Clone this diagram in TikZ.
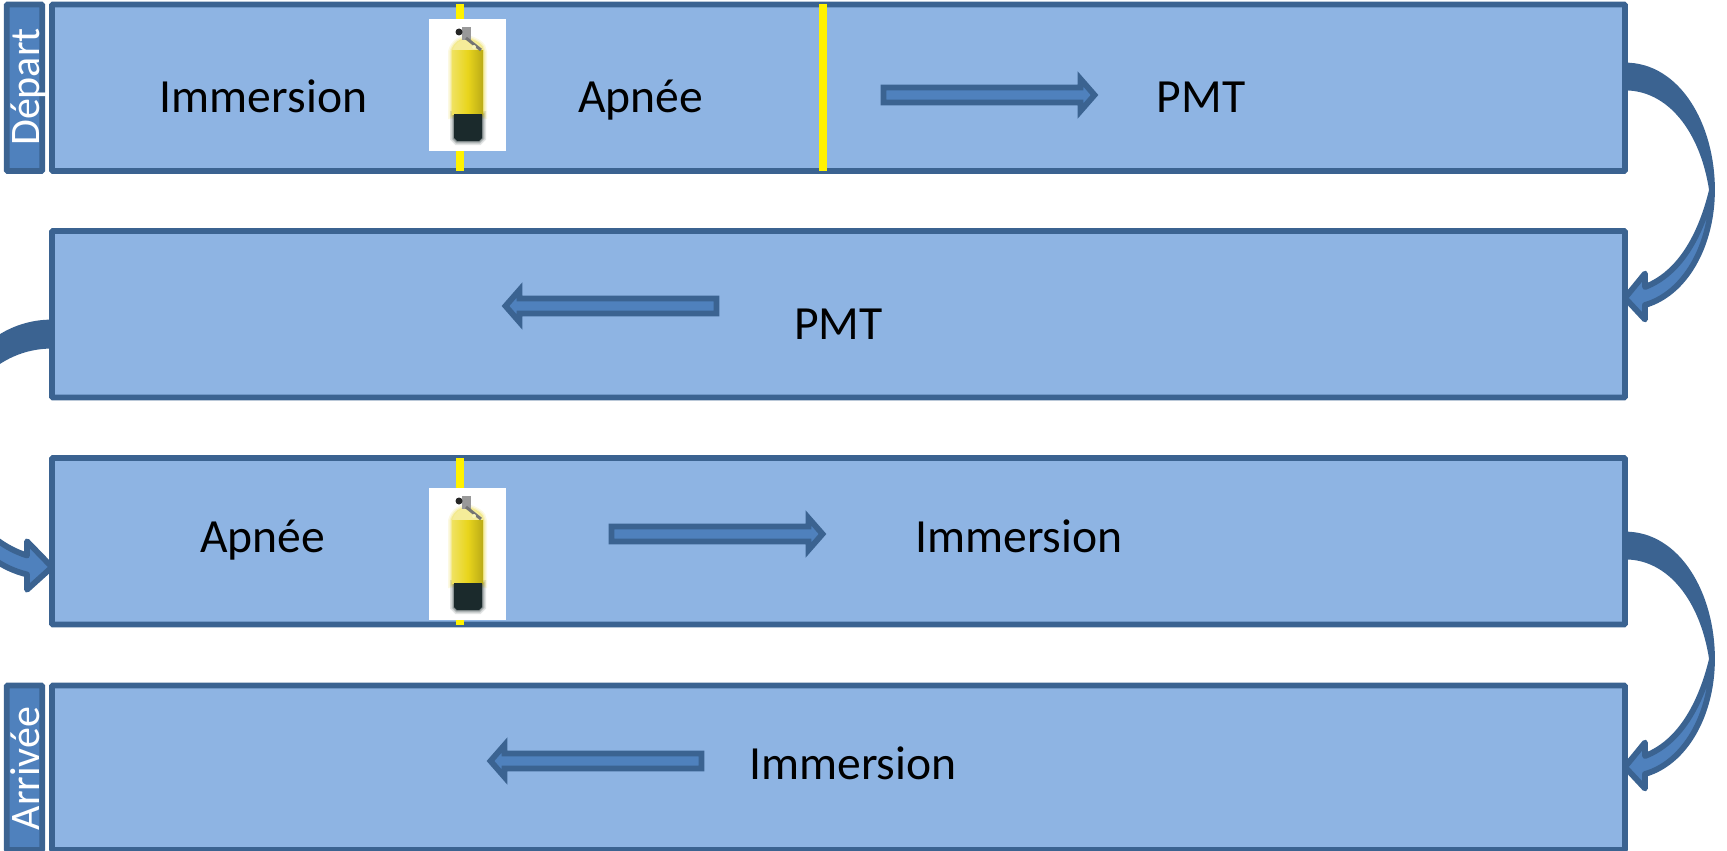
\documentclass[tikz,border=0pt]{standalone}
\usepackage{fontspec}
\setmainfont{Carlito}
\definecolor{rowfill}{HTML}{8EB4E3}
\definecolor{rowline}{HTML}{3B6391}
\definecolor{accentfill}{HTML}{4F81BD}
\definecolor{tankyellow}{HTML}{E9D51C}
\definecolor{tankdark}{HTML}{1B2A2C}
\tikzset{
  rowbox/.style={draw=rowline,fill=rowfill,line width=5.8pt,rounded corners=1pt,inner sep=0pt,outer sep=0pt,minimum width=1573pt,minimum height=166.5pt,anchor=north west},
  sidebox/.style={draw=rowline,fill=accentfill,line width=5.8pt,rounded corners=1pt,inner sep=0pt,outer sep=0pt,minimum width=35.5pt,minimum height=166.5pt,anchor=north west},
  label/.style={inner sep=0pt,outer sep=0pt,anchor=base,text=black,font=\fontsize{47.6}{50}\selectfont},
  sidelabel/.style={inner sep=0pt,outer sep=0pt,anchor=base,rotate=90,text=white,font=\fontsize{42}{45}\selectfont},
  marker/.style={draw=yellow,line width=8pt},
  bend/.pic={
    \path[fill=rowline] (0,0) .. controls (53,0) and (87,60) .. (87,124.5) .. controls (78,65) and (45,22) .. (0,22) -- cycle;
    \path[fill=accentfill] (87,124.5) .. controls (87,180) and (60,228) .. (20,239.5) -- (20,254) -- (0,232.5) -- (20,208) -- (20,221.5) .. controls (55,208) and (76,170) .. (87,124.5) -- cycle;
    \draw[rowline,line width=5.8pt,line join=round] (0,0) .. controls (53,0) and (87,60) .. (87,124.5) .. controls (87,180) and (60,228) .. (20,239.5) -- (20,254) -- (0,232.5) -- (20,208) -- (20,221.5) .. controls (55,208) and (76,170) .. (87,124.5) .. controls (78,65) and (45,22) .. (0,22);
  },
  flow/.pic={
    \draw[rowline,fill=accentfill,line width=5.8pt,line join=miter] (0,-7.5) -- (197,-7.5) -- (197,-16) -- (211,0) -- (197,16) -- (197,7.5) -- (0,7.5) -- cycle;
  },
  tank/.pic={
    \fill[white] (0,0) rectangle (77,132);
    \foreach \w/\o in {8/.12,5/.18,2.5/.3}{
      \draw[tankyellow,opacity=\o,line width=\w pt] (23,96) -- (23,33) .. controls (25,24) and (33,20) .. (38,20) .. controls (46,22) and (54,26) .. (54,33) -- (54,96) -- cycle;
      \draw[tankdark,opacity=\o,line width=\w pt] (25,96) -- (53,96) -- (53,119) -- (50,122) -- (28,122) -- (25,119) -- cycle;
    }
    \fill[tankyellow!45!white] (23,33) .. controls (25,24) and (33,20) .. (38,20) .. controls (46,22) and (54,26) .. (54,33) -- cycle;
    \shade[left color=tankyellow!70!white,right color=tankyellow!80!black,middle color=tankyellow] (23,95) rectangle (54,32);
    \fill[tankdark] (25,95) -- (53,95) -- (53,119) -- (50,122) -- (28,122) -- (25,119) -- cycle;
    \fill[black!40] (33,8) rectangle (42,21);
    \draw[black!55,line width=3pt] (37,19) -- (52,31);
    \fill[white!70!tankyellow] (45,28) circle (2);
    \fill[black!85] (30,13) circle (3.5);
  }
}
\begin{document}
\begin{tikzpicture}[x=1pt,y=-1pt]
\useasboundingbox (0,0) rectangle (1727,851);
\clip (0,0) rectangle (1727,851);
\pic at (1625,65.5) {bend};
\pic at (1625,534.5) {bend};
\pic[xscale=-1.25,yscale=1.052] at (52,322.5) {bend};
\node[rowbox] (row1) at (52,4.5) {};
\node[rowbox] (row2) at (52,231) {};
\node[rowbox] (row3) at (52,458) {};
\node[rowbox,minimum height=164.5pt] (row4) at (52,685.5) {};
\node[sidebox] (side1) at (6.7,4.5) {};
\node[sidebox,minimum height=164.5pt] (side4) at (6.7,685.5) {};
\draw[marker] (460,4) -- (460,171);
\draw[marker] (823,4) -- (823,171);
\draw[marker] (460,458) -- (460,625);
\pic at (429,19) {tank};
\pic at (429,488) {tank};
\pic at (883.5,95) {flow};
\pic[xscale=-1] at (716.5,306) {flow};
\pic at (611.5,534) {flow};
\pic[xscale=-1] at (701.5,761) {flow};
\node[label] (t1) at (263.5,112) {Immersion};
\node[label] (t2) at (640.5,112) {Apnée};
\node[label] (t3) at (1201,112) {PMT};
\node[label] (t4) at (838.5,339) {PMT};
\node[label] (t5) at (262.5,552) {Apnée};
\node[label] (t6) at (1019,552) {Immersion};
\node[label] (t7) at (853,779) {Immersion};
\node[sidelabel] (s1) at (39,87) {Départ};
\node[sidelabel] (s4) at (39,768.5) {Arrivée};
\end{tikzpicture}
\end{document}
